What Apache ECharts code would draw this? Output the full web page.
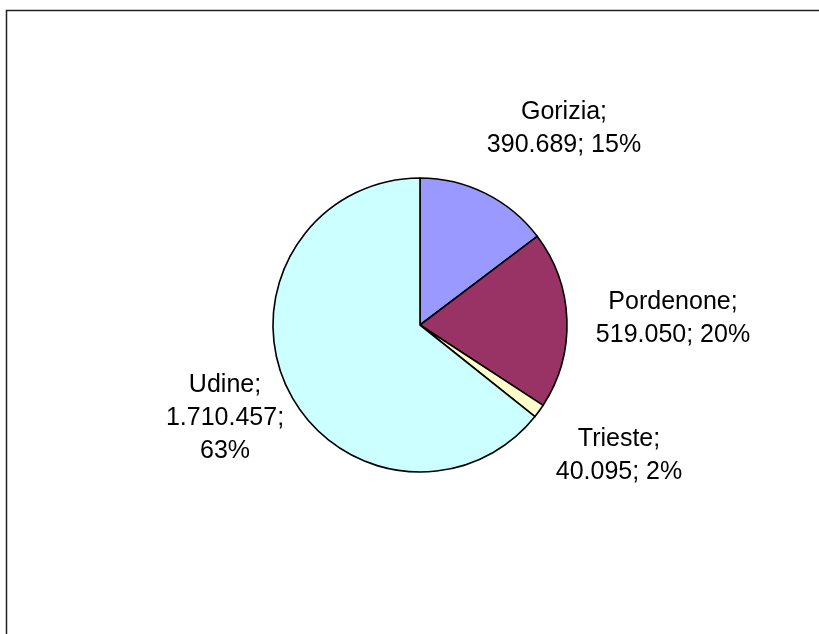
<!DOCTYPE html>
<html>
<head>
<meta charset="utf-8">
<script src="https://cdn.jsdelivr.net/npm/echarts@6/dist/echarts.min.js"></script>
<style>
  html, body { margin: 0; padding: 0; background: #fff; }
  #chart { width: 819px; height: 634px; }
</style>
</head>
<body>
<div id="chart"></div>
<script>
// Provinces of Friuli Venezia Giulia and their values
const provinces = ['Gorizia', 'Pordenone', 'Trieste', 'Udine'];
const values = [390689, 519050, 40095, 1710457];
const valueLabels = ['390.689', '519.050', '40.095', '1.710.457'];
const percentLabels = ['15%', '20%', '2%', '63%'];
const colors = ['#9999FF', '#993366', '#FFFFCC', '#CCFFFF'];

// Label text per slice (Udine breaks over three lines)
const labelText = [
  provinces[0] + ';\n' + valueLabels[0] + '; ' + percentLabels[0],
  provinces[1] + ';\n' + valueLabels[1] + '; ' + percentLabels[1],
  provinces[2] + ';\n' + valueLabels[2] + '; ' + percentLabels[2],
  provinces[3] + ';\n' + valueLabels[3] + ';\n' + percentLabels[3]
];

// Where each label box is centred
const labelAnchors = [[564, 129], [673, 319], [619, 456], [225, 418]];

const chart = echarts.init(document.getElementById('chart'), null, { renderer: 'canvas' });

chart.setOption({
  animation: false,
  backgroundColor: '#ffffff',
  graphic: [{
    type: 'rect',
    shape: { x: 6.5, y: 10.5, width: 900, height: 700 },
    style: { fill: 'none', stroke: '#222', lineWidth: 1.5 },
    silent: true,
    z: -1
  }],
  series: [{
    type: 'pie',
    center: [420, 325],
    radius: [0, 147],
    startAngle: 90,
    clockwise: true,
    avoidLabelOverlap: false,
    itemStyle: { borderColor: '#000', borderWidth: 1.6 },
    label: {
      show: true,
      position: 'outside',
      formatter: p => labelText[p.dataIndex],
      fontFamily: 'Liberation Sans, Arial, sans-serif',
      fontSize: 25,
      lineHeight: 33,
      color: '#000',
      align: 'center'
    },
    labelLine: { show: false },
    labelLayout: p => ({
      x: labelAnchors[p.dataIndex][0],
      y: labelAnchors[p.dataIndex][1],
      align: 'center',
      verticalAlign: 'middle'
    }),
    emphasis: { disabled: true },
    data: provinces.map((name, i) => ({
      name: name,
      value: values[i],
      itemStyle: { color: colors[i] }
    }))
  }]
});
</script>
</body>
</html>
